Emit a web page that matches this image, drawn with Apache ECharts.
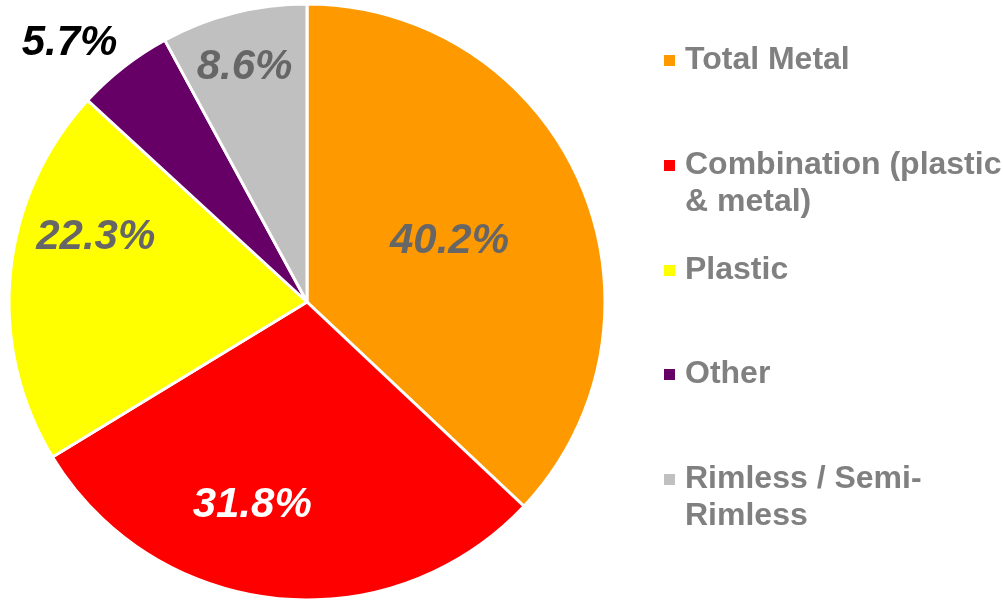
<!DOCTYPE html>
<html>
<head>
<meta charset="utf-8">
<script src="https://cdn.jsdelivr.net/npm/echarts@6/dist/echarts.min.js"></script>
<style>
  html, body { margin: 0; padding: 0; background: #ffffff; }
  #chart { width: 1003px; height: 600px; }
</style>
</head>
<body>
<div id="chart"></div>
<script>
// Frame material shares (%)
const categories = ['Total Metal', 'Combination (plastic & metal)', 'Plastic', 'Other', 'Rimless / Semi-Rimless'];
const legendLabels = ['Total Metal', 'Combination (plastic\n& metal)', 'Plastic', 'Other', 'Rimless / Semi-\nRimless'];
const shares = [40.2, 31.8, 22.3, 5.7, 8.6];

// Styling
const sliceColors = ['#FF9900', '#FF0000', '#FFFF00', '#660066', '#C0C0C0'];
const labelColors = ['#666666', '#FFFFFF', '#666666', '#000000', '#666666'];
// label shifts (px) away from the default mid-radius spot
const labelNudge = [[3, 0], [-39, 52], [-60, -50], [-144, -139], [-25, -87]];
const legendTops = [42, 147, 252, 356, 461];

const FONT = '"Liberation Sans", Arial, Helvetica, sans-serif';
const LINE_H = 37;
const SQ = 11;

const chart = echarts.init(document.getElementById('chart'), null, { renderer: 'canvas' });

const legends = categories.map((name, i) => {
  const twoLine = legendLabels[i].indexOf('\n') >= 0;
  return {
    data: [name],
    orient: 'vertical',
    left: 664,
    top: legendTops[i],
    padding: 0,
    itemWidth: SQ,
    itemHeight: twoLine ? SQ + LINE_H : SQ,
    // for wrapped names keep the square beside the first line
    icon: twoLine ? 'path://M0,0h11v11h-11zM0,48h0.01' : 'rect',
    itemStyle: { borderWidth: 0 },
    selectedMode: false,
    formatter: () => legendLabels[i],
    textStyle: {
      color: '#808080',
      fontSize: 32,
      fontWeight: 'bold',
      fontFamily: FONT,
      lineHeight: LINE_H,
      padding: [0, 0, 0, 5]
    }
  };
});

const option = {
  animation: false,
  backgroundColor: '#ffffff',
  legend: legends,
  series: [{
    type: 'pie',
    center: [307, 302],
    radius: 298,
    startAngle: 90,
    clockwise: true,
    avoidLabelOverlap: false,
    itemStyle: { borderColor: '#ffffff', borderWidth: 3 },
    label: {
      show: true,
      position: 'inside',
      formatter: '{c}%',
      fontSize: 42,
      fontWeight: 'bold',
      fontStyle: 'italic',
      fontFamily: FONT
    },
    labelLine: { show: false },
    labelLayout: p => ({ dx: labelNudge[p.dataIndex][0], dy: labelNudge[p.dataIndex][1] }),
    emphasis: { disabled: true },
    data: categories.map((name, i) => ({
      name: name,
      value: shares[i],
      itemStyle: { color: sliceColors[i] },
      label: { color: labelColors[i] }
    }))
  }]
};

chart.setOption(option);
</script>
</body>
</html>
